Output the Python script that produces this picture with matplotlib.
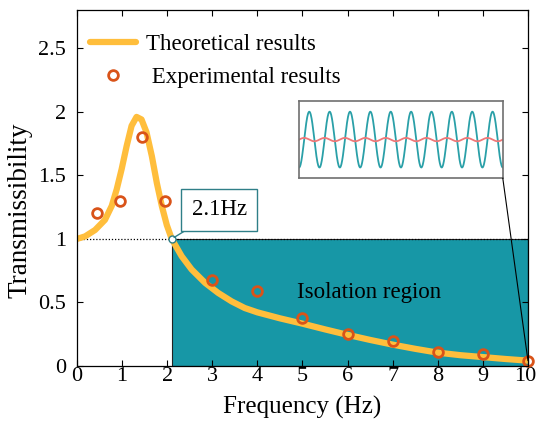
import matplotlib.pyplot as plt
import matplotlib.transforms as mtransforms
import numpy as np
from matplotlib.patches import Rectangle, ConnectionPatch

plt.rcParams['font.family'] = ['Liberation Serif', 'DejaVu Serif']

# Theoretical curve
theory_x = [0, 0.18, 0.4, 0.62, 0.77, 0.88, 0.99, 1.1, 1.21, 1.32, 1.43, 1.54,
            1.66, 1.77, 1.88, 1.99, 2.1, 2.32, 2.54, 2.84, 3.13, 3.43, 3.72, 4.0,
            4.5, 5.0, 5.5, 6.0, 6.5, 7.0, 7.5, 8.0, 8.5, 9.0, 9.5, 10.0]
theory_y = [1.00, 1.02, 1.07, 1.15, 1.26, 1.39, 1.55, 1.73, 1.89, 1.96, 1.94, 1.84,
            1.65, 1.44, 1.26, 1.11, 1.00, 0.864, 0.76, 0.654, 0.575, 0.508, 0.456, 0.422,
            0.375, 0.333, 0.288, 0.245, 0.205, 0.168, 0.135, 0.105, 0.085, 0.07, 0.055, 0.042]

# Experimental points
exp_x = [0.45, 0.95, 1.45, 1.95, 3, 4, 5, 6, 7, 8, 9, 10]
exp_y = [1.20, 1.30, 1.80, 1.30, 0.674, 0.59, 0.374, 0.253, 0.195, 0.11, 0.093, 0.042]

isolation_start = 2.1
isolation_label = '2.1Hz'

# inset signals: cycles and relative amplitudes
inset_cycles = 10
input_amp = 1.0
output_amp = 0.06

ORANGE = '#FFBE3C'
RED = '#D95319'
TEAL = '#1797A6'

fig = plt.figure(figsize=(5.36, 4.23), dpi=100)
ax = fig.add_axes([0.1437, 0.1348, 0.8413, 0.8412])

# isolation region
ax.add_patch(Rectangle((isolation_start, 0), 10 - isolation_start, 1,
                       facecolor=TEAL, edgecolor='#222222', lw=0.8, zorder=1))
ax.plot([0, 10], [1, 1], color='k', ls=(0, (1, 1.5)), lw=0.9, zorder=2)

ax.plot(theory_x, theory_y, color=ORANGE, lw=4.5, solid_capstyle='round',
        solid_joinstyle='round', label='Theoretical results', zorder=3)
ax.plot(exp_x, exp_y, ls='none', marker='o', ms=7, mfc='none', mec=RED, mew=2,
        label=' Experimental results', zorder=4, clip_on=False)

# crossing marker + annotation
ax.plot([isolation_start], [1], marker='o', ms=5, mfc='white', mec='#2F7F88',
        mew=1, zorder=5)
ax.annotate(isolation_label, xy=(isolation_start, 1), xytext=(3.15, 1.228),
            fontsize=16.5, ha='center', va='center', zorder=6,
            bbox=dict(boxstyle='square,pad=0.45', fc='white', ec='#2F7F88', lw=1),
            arrowprops=dict(arrowstyle='-', color='#2F7F88', lw=1,
                            shrinkA=0, shrinkB=2))

ax.text(4.88, 0.58, 'Isolation region', fontsize=16.5, va='center', ha='left', zorder=6)

ax.set_xlim(0, 10)
ax.set_ylim(0, 2.8)
ax.set_xticks(range(0, 11))
ax.set_yticks([0, 0.5, 1, 1.5, 2, 2.5])
ax.set_yticklabels(['0', '0.5', '1', '1.5', '2', '2.5'])
ax.tick_params(direction='in', top=True, right=True, labelsize=16, length=4, width=0.8)
ax.tick_params(axis='x', pad=1)
ax.tick_params(axis='y', pad=8)
for sp in ax.spines.values():
    sp.set_linewidth(0.9)
    sp.set_zorder(7)
ax.set_xlabel('Frequency (Hz)', fontsize=18)
ax.set_ylabel('Transmissibility', fontsize=19.5)
ax.xaxis.set_label_coords(0.5, -0.085)
ax.yaxis.set_label_coords(-0.098, 0.438)

# nudge the last x tick label ("10") so it stays inside the figure
last = ax.get_xticklabels()[-1]
last.set_transform(last.get_transform() +
                   mtransforms.ScaledTranslation(-3 / 100, 0, fig.dpi_scale_trans))

ax.legend(loc='upper left', bbox_to_anchor=(0.029, 0.932), frameon=False, fontsize=16.5,
          handlelength=2.0, handletextpad=0.45, labelspacing=0.5,
          borderaxespad=0, borderpad=0)

# inset with signals
ins = fig.add_axes([0.558, 0.579, 0.380, 0.182])
t = np.linspace(0, 1, 800)
ins.plot(t, -input_amp * np.cos(2 * np.pi * inset_cycles * t), color='#2AA0A8', lw=1.3)
ins.plot(t, output_amp * np.sin(2 * np.pi * inset_cycles * t), color='#F07878', lw=1.3)
ins.set_xlim(0, 1)
ins.set_ylim(-1.38, 1.38)
ins.set_xticks([])
ins.set_yticks([])
for sp in ins.spines.values():
    sp.set_color('#707070')
    sp.set_linewidth(1.2)

con = ConnectionPatch(xyA=(1, 0), coordsA=ins.transAxes, xyB=(10, 0.042),
                      coordsB=ax.transData, color='k', lw=0.8, zorder=8)
fig.add_artist(con)

fig.savefig('out.png', dpi=100)
